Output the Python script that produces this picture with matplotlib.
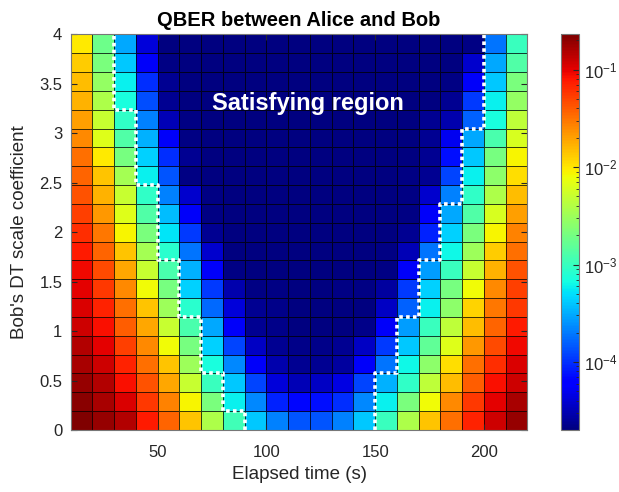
import numpy as np
import matplotlib
matplotlib.use("Agg")
import matplotlib.pyplot as plt
from matplotlib.colors import LogNorm

plt.rcParams["font.family"] = ["Liberation Sans", "DejaVu Sans"]
plt.rcParams["axes.unicode_minus"] = False

# cell edges: elapsed time (s) and Bob's DT scale coefficient
time_edges = np.arange(10, 230, 10)
coef_edges = np.linspace(0, 4, 22)

# QBER per cell, first row is the lowest coefficient
qber = np.array([
    [2.3e-1, 1.9e-1, 1.5e-1, 7.6e-2, 3.6e-2, 1.4e-2, 3.8e-3, 1.1e-3, 4.0e-4, 2.1e-4, 1.4e-4, 1.4e-4, 2.1e-4, 4.0e-4, 1.0e-3, 3.8e-3, 1.4e-2, 3.3e-2, 6.9e-2, 1.2e-1, 1.9e-1],
    [2.1e-1, 1.6e-1, 1.1e-1, 5.7e-2, 2.7e-2, 8.8e-3, 2.1e-3, 5.8e-4, 2.3e-4, 8.9e-5, 6.7e-5, 7.3e-5, 9.7e-5, 2.3e-4, 5.8e-4, 2.1e-3, 8.0e-3, 2.5e-2, 5.7e-2, 1.0e-1, 1.6e-1],
    [1.9e-1, 1.5e-1, 8.3e-2, 4.3e-2, 1.9e-2, 5.0e-3, 1.0e-3, 4.0e-4, 1.2e-4, 4.2e-5, 3.2e-5, 3.5e-5, 4.6e-5, 1.2e-4, 3.3e-4, 9.2e-4, 4.5e-3, 1.5e-2, 3.9e-2, 8.3e-2, 1.2e-1],
    [1.6e-1, 1.2e-1, 6.9e-2, 3.3e-2, 1.4e-2, 3.1e-3, 7.0e-4, 2.3e-4, 5.5e-5, 2.9e-5, 2.4e-5, 2.4e-5, 2.6e-5, 5.5e-5, 1.9e-4, 6.4e-4, 2.6e-3, 1.1e-2, 3.3e-2, 6.3e-2, 1.1e-1],
    [1.5e-1, 1.0e-1, 5.2e-2, 2.5e-2, 8.0e-3, 2.0e-3, 4.4e-4, 1.2e-4, 3.5e-5, 2.4e-5, 2.2e-5, 2.2e-5, 2.4e-5, 3.5e-5, 1.1e-4, 4.0e-4, 1.6e-3, 6.6e-3, 2.2e-2, 4.7e-2, 9.1e-2],
    [1.2e-1, 8.3e-2, 3.9e-2, 1.9e-2, 5.0e-3, 1.2e-3, 3.0e-4, 5.5e-5, 2.4e-5, 2.2e-5, 2.0e-5, 2.0e-5, 2.0e-5, 2.2e-5, 5.5e-5, 2.7e-4, 1.0e-3, 4.5e-3, 1.5e-2, 3.6e-2, 7.6e-2],
    [1.1e-1, 6.9e-2, 3.3e-2, 1.4e-2, 3.1e-3, 8.4e-4, 1.7e-4, 4.2e-5, 2.4e-5, 2.2e-5, 2.0e-5, 2.0e-5, 2.0e-5, 2.0e-5, 3.5e-5, 1.6e-4, 5.8e-4, 2.6e-3, 1.2e-2, 3.0e-2, 5.7e-2],
    [1.0e-1, 5.7e-2, 2.5e-2, 8.0e-3, 2.0e-3, 4.4e-4, 1.1e-4, 2.9e-5, 2.1e-5, 2.1e-5, 2.0e-5, 2.0e-5, 2.1e-5, 2.1e-5, 2.6e-5, 1.1e-4, 4.4e-4, 2.0e-3, 8.0e-3, 2.5e-2, 5.2e-2],
    [9.1e-2, 4.7e-2, 1.9e-2, 5.0e-3, 1.2e-3, 3.3e-4, 5.5e-5, 2.1e-5, 2.0e-5, 2.0e-5, 2.0e-5, 2.0e-5, 2.0e-5, 2.0e-5, 2.1e-5, 5.5e-5, 2.7e-4, 1.0e-3, 5.0e-3, 1.7e-2, 4.3e-2],
    [7.6e-2, 3.6e-2, 1.4e-2, 3.4e-3, 8.4e-4, 1.9e-4, 3.8e-5, 2.0e-5, 2.0e-5, 2.0e-5, 2.0e-5, 2.0e-5, 2.0e-5, 2.0e-5, 2.1e-5, 3.2e-5, 1.9e-4, 6.4e-4, 3.1e-3, 1.3e-2, 3.3e-2],
    [6.3e-2, 3.0e-2, 8.8e-3, 2.1e-3, 5.3e-4, 1.1e-4, 2.4e-5, 2.0e-5, 2.0e-5, 2.0e-5, 2.0e-5, 2.0e-5, 2.0e-5, 2.0e-5, 2.0e-5, 2.4e-5, 8.9e-5, 4.4e-4, 2.1e-3, 8.8e-3, 2.7e-2],
    [5.2e-2, 2.2e-2, 6.6e-3, 1.3e-3, 3.6e-4, 5.5e-5, 2.1e-5, 2.0e-5, 2.0e-5, 2.0e-5, 2.0e-5, 2.0e-5, 2.0e-5, 2.0e-5, 2.0e-5, 2.1e-5, 5.5e-5, 3.0e-4, 1.3e-3, 6.0e-3, 2.0e-2],
    [4.3e-2, 1.7e-2, 5.0e-3, 9.2e-4, 2.1e-4, 3.8e-5, 2.1e-5, 2.0e-5, 2.0e-5, 2.0e-5, 2.0e-5, 2.0e-5, 2.0e-5, 2.0e-5, 2.0e-5, 2.1e-5, 3.8e-5, 2.1e-4, 9.2e-4, 3.8e-3, 1.5e-2],
    [3.6e-2, 1.4e-2, 3.4e-3, 5.8e-4, 1.4e-4, 2.1e-5, 2.0e-5, 2.0e-5, 2.0e-5, 2.0e-5, 2.0e-5, 2.0e-5, 2.0e-5, 2.0e-5, 2.0e-5, 2.1e-5, 2.4e-5, 1.2e-4, 5.8e-4, 2.6e-3, 1.1e-2],
    [3.3e-2, 9.6e-3, 2.0e-3, 4.4e-4, 9.7e-5, 2.4e-5, 2.0e-5, 2.0e-5, 2.0e-5, 2.0e-5, 2.0e-5, 2.0e-5, 2.0e-5, 2.0e-5, 2.0e-5, 2.0e-5, 2.4e-5, 7.3e-5, 4.0e-4, 2.0e-3, 8.8e-3],
    [2.5e-2, 6.6e-3, 1.3e-3, 3.3e-4, 5.5e-5, 2.1e-5, 2.0e-5, 2.0e-5, 2.0e-5, 2.0e-5, 2.0e-5, 2.0e-5, 2.0e-5, 2.0e-5, 2.0e-5, 2.0e-5, 2.4e-5, 5.0e-5, 3.0e-4, 1.2e-3, 6.0e-3],
    [2.0e-2, 5.0e-3, 9.2e-4, 2.1e-4, 3.2e-5, 2.1e-5, 2.0e-5, 2.0e-5, 2.0e-5, 2.0e-5, 2.0e-5, 2.0e-5, 2.0e-5, 2.0e-5, 2.0e-5, 2.0e-5, 2.4e-5, 2.9e-5, 1.6e-4, 7.0e-4, 4.5e-3],
    [1.7e-2, 3.8e-3, 7.0e-4, 1.3e-4, 2.4e-5, 2.0e-5, 2.0e-5, 2.0e-5, 2.0e-5, 2.0e-5, 2.0e-5, 2.0e-5, 2.0e-5, 2.0e-5, 2.0e-5, 2.0e-5, 2.0e-5, 2.4e-5, 1.1e-4, 5.8e-4, 2.8e-3],
    [1.5e-2, 2.8e-3, 5.8e-4, 9.7e-5, 2.4e-5, 2.0e-5, 2.0e-5, 2.0e-5, 2.0e-5, 2.0e-5, 2.0e-5, 2.0e-5, 2.0e-5, 2.0e-5, 2.0e-5, 2.0e-5, 2.0e-5, 2.1e-5, 5.5e-5, 4.0e-4, 2.1e-3],
    [1.3e-2, 2.1e-3, 4.0e-4, 5.5e-5, 2.1e-5, 2.0e-5, 2.0e-5, 2.0e-5, 2.0e-5, 2.0e-5, 2.0e-5, 2.0e-5, 2.0e-5, 2.0e-5, 2.0e-5, 2.0e-5, 2.0e-5, 2.0e-5, 3.8e-5, 3.0e-4, 1.3e-3],
    [9.6e-3, 1.8e-3, 3.0e-4, 4.2e-5, 2.0e-5, 2.0e-5, 2.0e-5, 2.0e-5, 2.0e-5, 2.0e-5, 2.0e-5, 2.0e-5, 2.0e-5, 2.0e-5, 2.0e-5, 2.0e-5, 2.0e-5, 2.0e-5, 2.1e-5, 1.9e-4, 1.0e-3],
])

# time limits (s) of the satisfying region for each coefficient row
region_left = [90, 80, 80, 70, 70, 70, 60, 60, 60, 50, 50, 50, 50,
               40, 40, 40, 40, 30, 30, 30, 30]
region_right = [150, 150, 150, 160, 160, 160, 170, 170, 170, 180, 180, 180,
                190, 190, 190, 190, 200, 200, 200, 200, 200]

fig = plt.figure(figsize=(6.19, 4.92), dpi=100)
ax = fig.add_axes([0.1142, 0.126, 0.7378, 0.804])
cax = fig.add_axes([0.906, 0.126, 0.0296, 0.804])

mesh = ax.pcolormesh(time_edges, coef_edges, qber, cmap="jet",
                     norm=LogNorm(vmin=qber.min(), vmax=qber.max()),
                     edgecolors=(0, 0, 0, 0.75), linewidth=0.6)

# stepped boundary of the satisfying region
step_y = np.repeat(coef_edges, 2)[1:-1]
for limits in (region_left, region_right):
    ax.plot(np.repeat(limits, 2), step_y, color="white", lw=2.6,
            linestyle=(0, (1.0, 0.9)), solid_capstyle="butt")

ax.text(119, 3.3, "Satisfying region", color="white", fontsize=17,
        fontweight="bold", ha="center", va="center")

ax.set_xlim(10, 220)
ax.set_ylim(0, 4)
ax.set_xticks([50, 100, 150, 200])
ax.set_yticks(np.arange(0, 4.01, 0.5))
ax.set_yticklabels(["0", "0.5", "1", "1.5", "2", "2.5", "3", "3.5", "4"])
ax.tick_params(direction="in", length=4, labelsize=12, colors="#262626",
               top=True, right=True)
ax.tick_params(axis="x", pad=11)
ax.tick_params(axis="y", pad=6)
for spine in ax.spines.values():
    spine.set_color("#777777")
    spine.set_linewidth(0.8)

ax.set_title("QBER between Alice and Bob", fontsize=14.5, fontweight="bold", pad=6)
ax.set_xlabel("Elapsed time (s)", fontsize=13.5, color="#262626", labelpad=4)
ax.set_ylabel("Bob's DT scale coefficient", fontsize=13.5, color="#262626",
              labelpad=8)

cb = fig.colorbar(mesh, cax=cax)
cb.outline.set_edgecolor("#777777")
cb.outline.set_linewidth(0.8)
cax.tick_params(which="both", direction="in", colors="#262626", labelsize=12)
cax.tick_params(which="major", length=4)
cax.tick_params(which="minor", length=2)

fig.savefig("out.png", dpi=100)
